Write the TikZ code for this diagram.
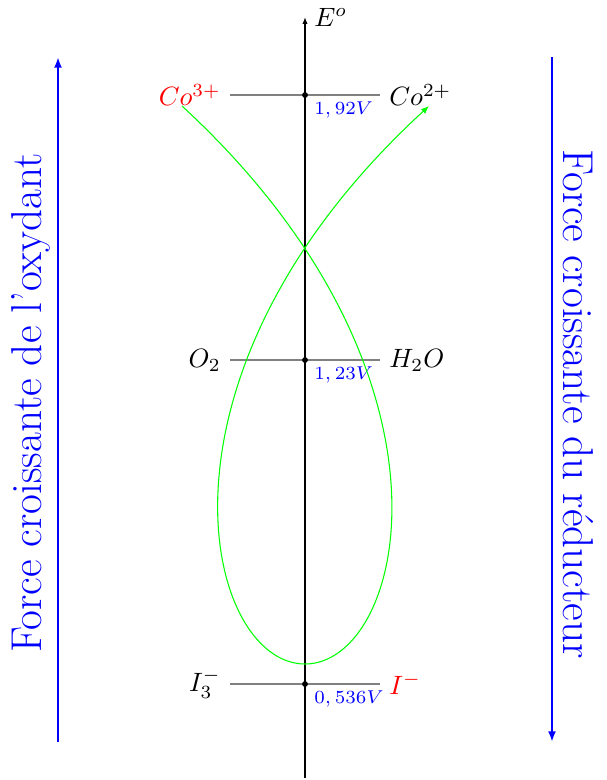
\documentclass[tikz,border=0pt]{standalone}
\usetikzlibrary{arrows.meta}
\begin{document}
\begin{tikzpicture}[x=0.3774pt,y=-0.3774pt,
  level/.style={gray},
  val/.style={blue,font=\fontsize{7.5}{9}\selectfont,anchor=north west,inner ysep=2.5pt},
  dot/.style={circle,fill=black,inner sep=0pt,minimum size=2.2pt},
  sidearrow/.style={blue,thick,-{Latex[length=4pt,width=3pt]}},
  sidetext/.style={blue,font=\fontsize{16.3}{20}\selectfont,inner sep=0pt},
  curve/.style={green,-{Latex[length=3pt,width=2.4pt]}},
  axis/.style={semithick,-{Latex[length=2.6pt,width=2pt]}}]
\useasboundingbox (0,0) rectangle (607,780);
% axis
\coordinate (ab) at (305,778);
\coordinate (at) at (305,17);
\draw[axis] (ab) -- (at);
\node[right] (E) at (at) {$E^o$};
% Co level
\coordinate (coL) at (230,95);
\coordinate (coR) at (380,95);
\draw[level] (coL) -- (coR);
\node[left,red] (co3) at (coL) {$Co^{3+}$};
\node[right] (co2) at (coR) {$Co^{2+}$};
\node[dot] (co) at (305,95) {};
\node[val] (v1) at (co) {$1,92V$};
% O2 level
\coordinate (oL) at (230,360);
\coordinate (oR) at (380,360);
\draw[level] (oL) -- (oR);
\node[left] (o2) at (oL) {$O_2$};
\node[right] (h2o) at (oR) {$H_2O$};
\node[dot] (o) at (305,360) {};
\node[val] (v2) at (o) {$1,23V$};
% I level
\coordinate (iL) at (230,684);
\coordinate (iR) at (380,684);
\draw[level] (iL) -- (iR);
\node[left] (i3) at (iL) {$I_3^-$};
\node[right,red] (im) at (iR) {$I^-$};
\node[dot] (i) at (305,684) {};
\node[val] (v3) at (i) {$0,536V$};
% green curve
\coordinate (gs) at (182,106);
\coordinate (gb) at (305,664);
\coordinate (ge) at (429,106);
\draw[curve] (gs) .. controls (476,377) and (405,664) .. (gb)
  .. controls (205,664) and (134,377) .. (ge);
% side arrows
\coordinate (lb) at (58,742);
\coordinate (lt) at (58,57);
\draw[sidearrow] (lb) -- (lt);
\node[sidetext,rotate=90] (ltext) at (31,403) {Force croissante de l'oxydant};
\coordinate (rt) at (552,57);
\coordinate (rb) at (552,742);
\draw[sidearrow] (rt) -- (rb);
\node[sidetext,rotate=-90] (rtext) at (578,404) {Force croissante du réducteur};
\end{tikzpicture}
\end{document}
